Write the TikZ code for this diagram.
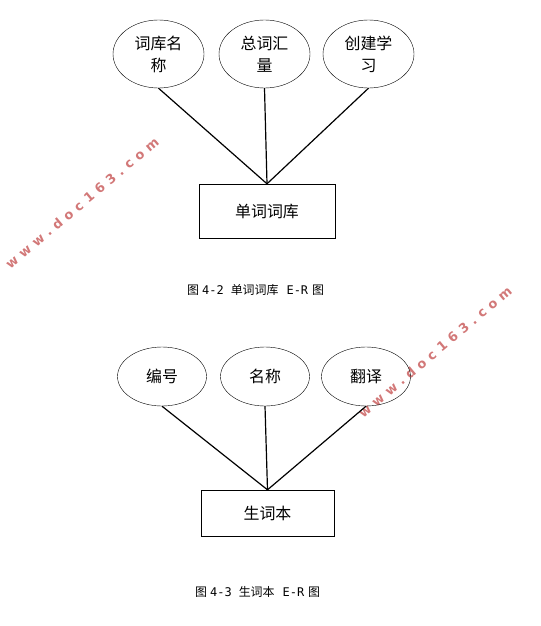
\documentclass[tikz,border=0pt]{standalone}
\usepackage{fontspec}
\setmainfont{Liberation Sans}
\newfontfamily\cjk{Noto Sans CJK SC}
\newfontfamily\capmono{DejaVu Sans Mono}
\newfontfamily\wmfont[LetterSpace=40]{DejaVu Sans}
\usetikzlibrary{positioning,shapes.geometric}
\definecolor{wmred}{RGB}{210,120,120}

% caption text: figure number and entity name
\newcommand{\figcap}[2]{图\hspace{3bp}{\capmono #1}\hspace{7bp}#2\hspace{8bp}{\capmono E-R}\hspace{4bp}图}

\begin{document}
\begin{tikzpicture}[x=1bp, y=-1bp, font=\cjk,
    attr/.style={draw, ellipse, inner sep=0pt, align=center,
                 font=\cjk\fontsize{16}{22}\selectfont},
    entity/.style={draw, rectangle, inner sep=0pt,
                   font=\cjk\fontsize{16}{22}\selectfont},
    link/.style={line width=1.2pt},
    caption/.style={inner sep=0pt, font=\cjk\fontsize{12}{14}\selectfont},
    wmark/.style={text=wmred, rotate=40, font=\wmfont\bfseries\fontsize{13}{15}\selectfont}]

\useasboundingbox (0,0) rectangle (541,626);

% watermarks
\node[wmark] (wm1) at (82,203) {www.doc163.com};
\node[wmark] (wm2) at (435,352) {www.doc163.com};

% Fig 4-2: word library
\node[entity, minimum width=136bp, minimum height=54bp] (lib) at (267,211) {单词词库};
\foreach \n/\x/\txt in {la/158.5/{词库名\\称}, lb/264.5/{总词汇\\量}, lc/368.5/{创建学\\习}} {
    \node[attr, minimum width=91bp, minimum height=68bp] (\n) at (\x,54) {\txt};
    \draw[link] (\n.south) -- (lib.north);
}
\node[caption, anchor=west] (cap1) at (187,290) {\figcap{4-2}{单词词库}};

% Fig 4-3: vocabulary book
\node[entity, minimum width=133bp, minimum height=46bp] (book) at (267.5,513) {生词本};
\foreach \n/\x/\txt in {ba/162/编号, bb/265/名称, bc/366/翻译} {
    \node[attr, minimum width=89bp, minimum height=59bp] (\n) at (\x,376.5) {\txt};
    \draw[link] (\n.south) -- (book.north);
}
\node[caption, anchor=west] (cap2) at (195,592) {\figcap{4-3}{生词本}};

\end{tikzpicture}
\end{document}
